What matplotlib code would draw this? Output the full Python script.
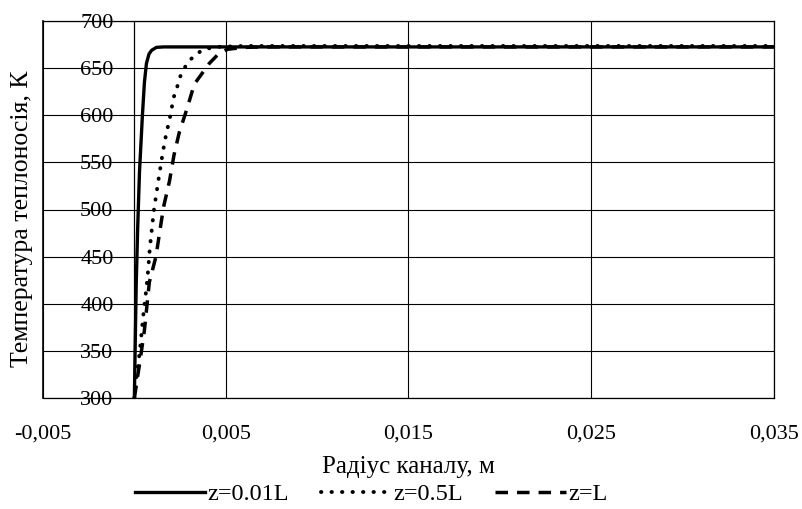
import matplotlib
matplotlib.use("Agg")
import matplotlib.pyplot as plt

# radius, m and coolant temperature, K
r_001 = [0, 0.00004, 0.0001, 0.00018, 0.00028, 0.00036, 0.00044, 0.00055,
         0.00066, 0.0008, 0.00095, 0.0012, 0.0016, 0.035]
t_001 = [300, 350, 420, 480, 540, 570, 600, 635, 655, 665, 669, 672, 672.5, 672.5]

r_05 = [0, 0.0001, 0.0003, 0.0005, 0.00065, 0.00075, 0.00085, 0.00095, 0.00106,
        0.00122, 0.00137, 0.00155, 0.00173, 0.00195, 0.00215, 0.00233, 0.00246,
        0.00268, 0.00292, 0.00332, 0.0038, 0.0045, 0.006, 0.035]
t_05 = [300, 320, 350, 390, 415, 435, 460, 478, 498, 519, 538, 560, 579, 598,
        619, 629, 639, 648, 656, 664, 670, 672.5, 673.5, 673.5]

r_1 = [0, 0.00018, 0.00033, 0.00055, 0.00082, 0.00118, 0.0014, 0.0016, 0.00192,
       0.00217, 0.00246, 0.00288, 0.00328, 0.0041, 0.0046, 0.0051, 0.006, 0.007, 0.035]
t_1 = [300, 323, 342, 372, 423, 450, 478, 503, 530, 558, 582, 607, 633, 655,
       665, 670, 672, 672.5, 672.5]

x_ticks = [-0.005, 0.005, 0.015, 0.025, 0.035]
x_labels = ["-0,005", "0,005", "0,015", "0,025", "0,035"]
y_ticks = [300, 350, 400, 450, 500, 550, 600, 650, 700]

plt.rcParams["font.family"] = ["Liberation Serif", "DejaVu Serif"]
plt.rcParams["font.size"] = 16

fig = plt.figure(figsize=(8.03, 5.09), dpi=100)
ax = fig.add_axes([43 / 803, 1 - 398 / 509, (774 - 43) / 803, (398 - 21) / 509])

ax.plot(r_001, t_001, color="black", lw=2.4, label="z=0.01L", zorder=3)
ax.plot(r_05, t_05, color="black", lw=2.8, linestyle=(0, (0.1, 2.6)),
        dash_capstyle="round", label="z=0.5L", zorder=4)
ax.plot(r_1, t_1, color="black", lw=2.5, linestyle=(0, (3.6, 2.6)),
        label="z=L", zorder=5)

ax.set_xlim(-0.005, 0.035)
ax.set_ylim(300, 700)
ax.set_xticks(x_ticks)
ax.set_xticklabels(x_labels)
ax.set_yticks(y_ticks)

ax.grid(True, color="black", lw=0.8)
ax.set_axisbelow(True)
ax.spines["left"].set_position(("data", 0))
for s in ax.spines.values():
    s.set_linewidth(0.9)
ax.axvline(-0.005, color="black", lw=1.2, clip_on=False)
ax.tick_params(axis="both", length=0)
ax.tick_params(axis="y", pad=15)
ax.tick_params(axis="x", pad=19)

fig.text(408 / 803, 1 - 467 / 509, "Радіус каналу, м", ha="center", va="center",
         fontsize=18)
fig.text(22 / 803, 1 - 219 / 509, "Температура теплоносія, К", ha="center",
         va="center", rotation=90, fontsize=18.5)

fig.legend(loc="center", bbox_to_anchor=(371 / 803, 1 - 494 / 509), ncol=3,
           frameon=False, handlelength=2.9, handletextpad=0.1, columnspacing=1.3,
           borderaxespad=0, borderpad=0, fontsize=17.5)

fig.savefig("out.png", dpi=100)
